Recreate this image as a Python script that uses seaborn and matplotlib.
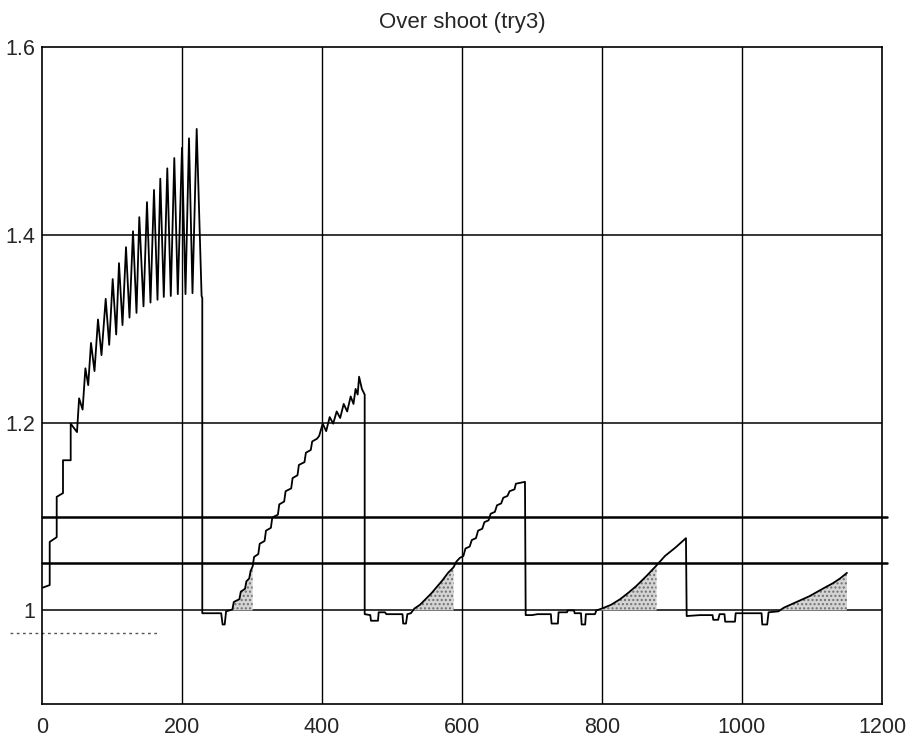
import numpy as np
import pandas as pd
import seaborn as sns
import matplotlib
matplotlib.use("Agg")
import matplotlib.pyplot as plt

# response curve (x in samples, y normalised)
seg1_x = [0, 11, 11, 21, 21, 30, 30, 41, 41, 50, 53, 58, 62, 66, 70, 75, 80, 85, 91, 96,
          101, 106, 110, 115, 120, 125, 130, 135, 139, 145, 150, 155, 160, 165, 169, 174,
          179, 184, 189, 194, 200, 205, 210, 215, 221, 228, 229]
seg1_y = [1.024, 1.027, 1.073, 1.078, 1.121, 1.125, 1.160, 1.160, 1.199, 1.190, 1.226, 1.214,
          1.258, 1.240, 1.285, 1.255, 1.310, 1.272, 1.332, 1.283, 1.353, 1.294, 1.370, 1.304,
          1.387, 1.312, 1.404, 1.317, 1.419, 1.324, 1.435, 1.328, 1.448, 1.331, 1.460, 1.334,
          1.471, 1.335, 1.482, 1.337, 1.493, 1.337, 1.503, 1.338, 1.513, 1.335, 1.333]

seg2_x = [229, 250, 256, 258, 261, 263, 272, 274, 282, 284, 290, 292, 296, 298, 301, 303,
          309, 311, 318, 320, 327, 329, 337, 339, 346, 348, 356, 358, 365, 367, 375, 377,
          384, 386, 393, 396, 401, 406, 411, 416, 421, 426, 431, 436, 441, 445, 448, 451,
          453, 457, 461]
seg2_y = [0.997, 0.997, 0.997, 0.985, 0.985, 0.999, 1.001, 1.009, 1.012, 1.020, 1.023, 1.031,
          1.034, 1.042, 1.047, 1.057, 1.060, 1.071, 1.074, 1.085, 1.088, 1.099, 1.102, 1.113,
          1.116, 1.127, 1.130, 1.141, 1.144, 1.155, 1.158, 1.168, 1.171, 1.180, 1.183, 1.186,
          1.199, 1.191, 1.206, 1.199, 1.212, 1.205, 1.220, 1.212, 1.228, 1.220, 1.236, 1.230,
          1.249, 1.236, 1.230]

seg3_x = [461, 469, 470, 480, 481, 490, 492, 515, 516, 520, 522, 527, 532, 540, 548, 556,
          564, 572, 580, 588, 592, 597, 602, 605, 611, 614, 620, 623, 629, 632, 638, 641,
          647, 650, 656, 659, 665, 668, 675, 677, 690]
seg3_y = [0.996, 0.995, 0.989, 0.989, 0.998, 0.998, 0.996, 0.996, 0.986, 0.986, 0.996, 0.997,
          1.002, 1.006, 1.012, 1.018, 1.025, 1.032, 1.040, 1.046, 1.052, 1.056, 1.058, 1.066,
          1.068, 1.075, 1.077, 1.085, 1.087, 1.094, 1.096, 1.103, 1.105, 1.112, 1.114, 1.120,
          1.122, 1.127, 1.129, 1.135, 1.137]

seg4_x = [691, 700, 708, 727, 728, 737, 738, 750, 751, 760, 761, 770, 771, 776, 777, 790,
          792, 800, 813, 826, 838, 849, 864, 878, 890, 905, 920]
seg4_y = [0.995, 0.995, 0.996, 0.996, 0.986, 0.986, 0.998, 0.998, 1.000, 1.000, 0.997, 0.997,
          0.985, 0.985, 0.996, 0.996, 1.000, 1.002, 1.006, 1.012, 1.019, 1.026, 1.037, 1.048,
          1.058, 1.067, 1.077]

seg5_x = [921, 940, 958, 959, 966, 968, 975, 976, 990, 991, 1000, 1028, 1029, 1036, 1038,
          1052, 1060, 1072, 1084, 1096, 1108, 1120, 1130, 1140, 1150]
seg5_y = [0.994, 0.995, 0.995, 0.990, 0.990, 0.996, 0.996, 0.988, 0.988, 0.997, 0.997, 0.997,
          0.985, 0.985, 0.998, 0.999, 1.003, 1.007, 1.011, 1.015, 1.020, 1.025, 1.029, 1.034,
          1.040]

# overshoot regions that are shaded under the curve
shade_spans = [(263, 301), (527, 590), (792, 880), (1052, 1150)]

# reference levels drawn as heavy lines
ref_levels = [1.05, 1.1]
grid_y = [1.0, 1.2, 1.4]
grid_x = [200, 400, 600, 800, 1000]

# stray dotted trace below the axis start
stray_x = [-46, 169]
stray_y = [0.976, 0.976]

xticks = [0, 200, 400, 600, 800, 1000, 1200]
yticks = [1.0, 1.2, 1.4, 1.6]
ytick_labels = ["1", "1.2", "1.4", "1.6"]

curve_x = seg1_x + seg2_x + seg3_x + seg4_x + seg5_x
curve_y = seg1_y + seg2_y + seg3_y + seg4_y + seg5_y
df = pd.DataFrame({"t": curve_x, "v": curve_y})

sns.set_style("white")
plt.rcParams["font.family"] = ["Liberation Sans", "DejaVu Sans"]

fig = plt.figure(figsize=(9.13, 7.39), dpi=100)
ax = fig.add_axes([0.046, 0.047, 0.92, 0.889])

for gx in grid_x:
    ax.axvline(gx, color="black", lw=1.0, zorder=1)
for gy in grid_y:
    ax.axhline(gy, color="black", lw=1.1, zorder=1)
for ry in ref_levels:
    ax.axhline(ry, xmax=1.006, color="black", lw=1.8, zorder=1, clip_on=False)

arr_x = np.array(curve_x)
arr_y = np.array(curve_y)
for lo, hi in shade_spans:
    m = (arr_x >= lo) & (arr_x <= hi)
    ax.fill_between(arr_x[m], 1.0, np.maximum(arr_y[m], 1.0), facecolor="#d4d4d4",
                    edgecolor="#707070", hatch="....", lw=0, zorder=2)

sns.lineplot(data=df, x="t", y="v", sort=False, estimator=None, color="black",
             lw=1.3, ax=ax, zorder=3)

ax.plot(stray_x, stray_y, color="#555555", lw=1.0, ls=(0, (2, 2.5)), clip_on=False)

ax.set_xlim(0, 1200)
ax.set_ylim(0.9, 1.6)
ax.set_xticks(xticks)
ax.set_yticks(yticks)
ax.set_yticklabels(ytick_labels)
ax.tick_params(length=0, labelsize=15.5)
ax.tick_params(axis="x", pad=9)
ax.tick_params(axis="y", pad=5)
ax.set_xlabel("")
ax.set_ylabel("")
for s in ax.spines.values():
    s.set_color("black")
    s.set_linewidth(1.2)
ax.set_title("Over shoot (try3)", fontsize=16, pad=14)

fig.savefig("out.png", dpi=100)
